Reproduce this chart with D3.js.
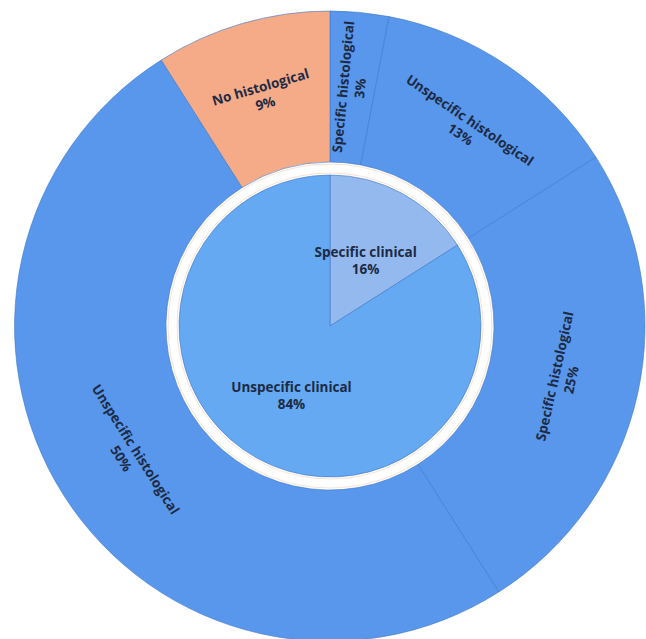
<!DOCTYPE html>
<html>
<head>
<meta charset="utf-8">
<script src="https://cdn.jsdelivr.net/npm/d3@7"></script>
<style>
html,body{margin:0;padding:0;background:#fff;}
svg{display:block;}
</style>
</head>
<body>
<svg id="chart" width="646" height="639"></svg>
<script>
// ---- data ----
const innerLabels = ["Specific clinical", "Unspecific clinical"];
const innerValues = [16, 84];
const outerParents = ["Specific clinical", "Specific clinical", "Unspecific clinical", "Unspecific clinical", "Unspecific clinical"];
const outerLabels = ["Specific histological", "Unspecific histological", "Specific histological", "Unspecific histological", "No histological"];
const outerValues = [3, 13, 25, 50, 9];

// ---- styles ----
const innerColors = ["#93b9ee", "#64a9f1"];
const outerColors = ["#5897ec", "#5897ec", "#5897ec", "#5897ec", "#f5ab88"];
const cx = 330, cy = 326;
const innerR = 151, ringIn = 164, ringOut = 315;

const svg = d3.select("#chart");
const g = svg.append("g").attr("transform", `translate(${cx},${cy})`);

const pie = d3.pie().sort(null).value(d => d);
const innerArcs = pie(innerValues);
const outerArcs = pie(outerValues);

const arcInner = d3.arc().innerRadius(0).outerRadius(innerR);
const arcOuter = d3.arc().innerRadius(ringIn).outerRadius(ringOut);

g.selectAll("path.outer").data(outerArcs).join("path")
  .attr("class", "outer")
  .attr("d", arcOuter)
  .attr("fill", (d, i) => outerColors[i])
  .attr("stroke", "#3f78c9")
  .attr("stroke-opacity", 0.6)
  .attr("stroke-width", 1);

// faint tint at edges of the white gap
g.append("circle").attr("r", innerR + 2).attr("fill", "none")
  .attr("stroke", "#f8e3d4").attr("stroke-width", 1);
g.append("circle").attr("r", ringIn - 2).attr("fill", "none")
  .attr("stroke", "#f8e3d4").attr("stroke-width", 1);

g.selectAll("path.inner").data(innerArcs).join("path")
  .attr("class", "inner")
  .attr("d", arcInner)
  .attr("fill", (d, i) => innerColors[i])
  .attr("stroke", "#3f78c9")
  .attr("stroke-opacity", 0.6)
  .attr("stroke-width", 1);

const textColor = "#1d2a44";
const fontFam = "'Open Sans', 'DejaVu Sans', sans-serif";
const fs = 13.5, lh = 17;

function twoLine(sel, l1, l2) {
  sel.append("tspan").attr("x", 0).attr("dy", -lh / 2 + 4).text(l1);
  sel.append("tspan").attr("x", 0).attr("dy", lh).text(l2);
}

// inner labels (horizontal)
const innerLabelR = [74, 80];
innerArcs.forEach((d, i) => {
  const a = (d.startAngle + d.endAngle) / 2;
  const x = innerLabelR[i] * Math.sin(a), y = -innerLabelR[i] * Math.cos(a);
  const t = g.append("text")
    .attr("transform", `translate(${x},${y})`)
    .attr("text-anchor", "middle")
    .attr("font-family", fontFam).attr("font-weight", "bold")
    .attr("font-size", fs).attr("fill", textColor);
  twoLine(t, innerLabels[i], innerValues[i] + "%");
});

// outer labels (tangential, radial when narrow)
const labR = (ringIn + ringOut) / 2;
outerArcs.forEach((d, i) => {
  const a = (d.startAngle + d.endAngle) / 2;
  const deg = a * 180 / Math.PI;
  const span = d.endAngle - d.startAngle;
  let rot;
  if (span < 0.4) {
    rot = deg < 180 ? deg - 90 : deg + 90;
  } else {
    rot = (deg > 90 && deg < 270) ? deg - 180 : deg;
    if (rot > 180) rot -= 360;
  }
  const x = labR * Math.sin(a), y = -labR * Math.cos(a);
  const t = g.append("text")
    .attr("transform", `translate(${x},${y}) rotate(${rot})`)
    .attr("text-anchor", "middle")
    .attr("font-family", fontFam).attr("font-weight", "bold")
    .attr("font-size", fs).attr("fill", textColor);
  twoLine(t, outerLabels[i], outerValues[i] + "%");
});
</script>
</body>
</html>
